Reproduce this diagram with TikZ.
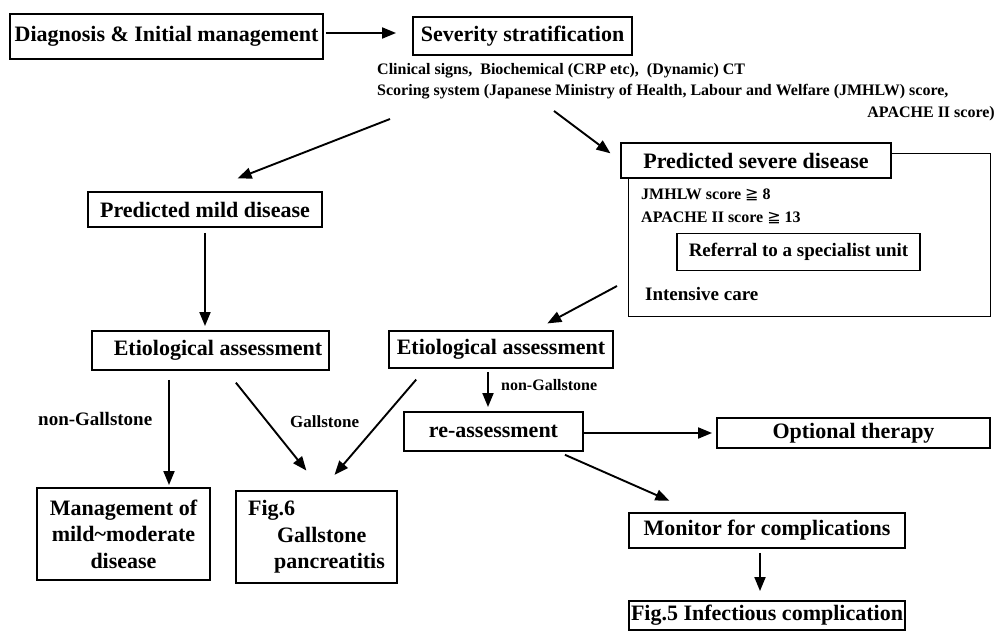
\documentclass[tikz,border=0pt]{standalone}
\usepackage{fontspec}
\setmainfont{Liberation Serif}
\newfontfamily\dvsym{DejaVu Sans}
\newcommand{\ggeq}{{\dvsym\fontseries{m}\selectfont ≧}}
\usetikzlibrary{arrows.meta,calc}
\begin{document}
\begin{tikzpicture}[x=1pt,y=-1pt,
  box/.style={draw,line width=1.9pt,rectangle,inner sep=0pt,fill=white,font=\bfseries\fontsize{22}{26.5}\selectfont},
  small/.style={inner sep=0pt,font=\bfseries\fontsize{16}{19}\selectfont},
  mid/.style={inner sep=0pt,font=\bfseries\fontsize{19}{22}\selectfont},
  arr/.style={line width=1.9pt,-{Triangle[length=14pt,width=11pt]}}]
\useasboundingbox (0,0) rectangle (996,632);
% top row
\node[box,minimum width=313pt,minimum height=45pt] (diag) at (166.5,36.5) {Diagnosis \& Initial management};
\node[box,minimum width=219pt,minimum height=38pt] (sev) at (522.5,36) {Severity stratification};
\draw[arr,shorten <=2pt,shorten >=16pt] ([yshift=3.5pt]diag.east) -- ([yshift=3pt]sev.west);
\node[small,anchor=base west] (t1) at (377,74) {Clinical signs,\ \ Biochemical (CRP etc),\ \ (Dynamic) CT};
\node[small,anchor=base west] (t2) at (377,95.5) {Scoring system (Japanese Ministry of Health, Labour and Welfare (JMHLW) score,};
\node[small,anchor=base east] (t3) at (995,117) {APACHE II score)};
\coordinate (sL) at (390,119);
\coordinate (sR) at (554,111);
% severe branch
\node[draw,line width=1pt,minimum width=362pt,minimum height=163pt,inner sep=0pt] (outer) at (809,234.5) {};
\node[box,minimum width=270pt,minimum height=35pt] (severe) at (756,160.5) {Predicted severe disease};
\draw[arr,shorten >=12pt] (sR) -- (severe.west);
\node[small,anchor=base west] (j1) at (641,199) {JMHLW score \ggeq\ 8};
\node[small,anchor=base west] (j2) at (641,222) {APACHE II score \ggeq\ 13};
\node[box,font=\bfseries\fontsize{19}{22}\selectfont,minimum width=243pt,minimum height=37pt] (ref) at (798.5,252) {Referral to a specialist unit};
\node[mid,anchor=base west] (ic) at (645,300) {Intensive care};
% mild branch
\node[box,minimum width=234pt,minimum height=35pt] (mild) at (205,209.5) {Predicted mild disease};
\draw[arr,shorten >=35pt] (sL) -- (mild.north);
\node[box,minimum width=237pt,minimum height=39pt] (etioL) at (210.5,350.5) {\hspace*{15pt}Etiological assessment};
\draw[arr,shorten <=5pt,shorten >=4pt] (mild.south) -- (mild.south |- etioL.north);
% right etiological
\node[box,minimum width=224pt,minimum height=37pt] (etioR) at (501,349.5) {Etiological assessment};
\coordinate (iS) at (617,286);
\draw[arr,shorten >=14pt] (iS) -- ([xshift=34pt]etioR.north);
\node[box,minimum width=179pt,minimum height=39pt] (reass) at (493.5,431.5) {re-assessment};
\draw[arr,shorten <=3pt,shorten >=4pt] ([xshift=-13pt]etioR.south) -- ([xshift=-13pt]etioR.south |- reass.north);
\node[small,anchor=base west] (ng2) at (501,390) {non-Gallstone};
\node[box,minimum width=273pt,minimum height=30pt] (opt) at (853.5,433) {Optional therapy};
\draw[arr,shorten >=4pt] (reass.east |- opt.west) -- (opt.west);
\node[box,minimum width=276pt,minimum height=35pt] (mon) at (767,530.5) {Monitor for complications};
\draw[arr,shorten <=7pt,shorten >=28pt] ([xshift=65pt]reass.south) -- ([xshift=-72pt]mon.north);
\node[box,minimum width=276pt,minimum height=29pt] (fig5) at (767,615.5) {Fig.5 Infectious complication};
\draw[arr,shorten <=4pt,shorten >=9pt] ([xshift=-7pt]mon.south) -- ([xshift=-7pt]mon.south |- fig5.north);
% bottom left
\node[box,minimum width=173pt,minimum height=92pt,align=center] (mgmt) at (123.5,534) {Management of\\mild\textasciitilde moderate\\disease};
\node[box,minimum width=161pt,minimum height=92pt,align=left] (fig6) at (316.5,537) {Fig.6\\\hspace*{29pt}Gallstone\\\hspace*{26pt}pancreatitis};
\draw[arr,shorten <=9pt,shorten >=2pt] ([xshift=-41.5pt]etioL.south) -- ([xshift=-41.5pt]etioL.south |- mgmt.north);
\node[mid,anchor=base west] (ng1) at (38,425) {non-Gallstone};
\draw[arr,shorten <=15pt,shorten >=25pt] ([xshift=16pt]etioL.south) -- ([xshift=5.5pt]fig6.north);
\node[font=\bfseries\fontsize{17}{20}\selectfont,inner sep=0pt,anchor=base west] (gs) at (290,427) {Gallstone};
\draw[arr,shorten <=14pt,shorten >=20pt] ([xshift=-75.7pt]etioR.south) -- ([xshift=5pt]fig6.north);
\end{tikzpicture}
\end{document}
